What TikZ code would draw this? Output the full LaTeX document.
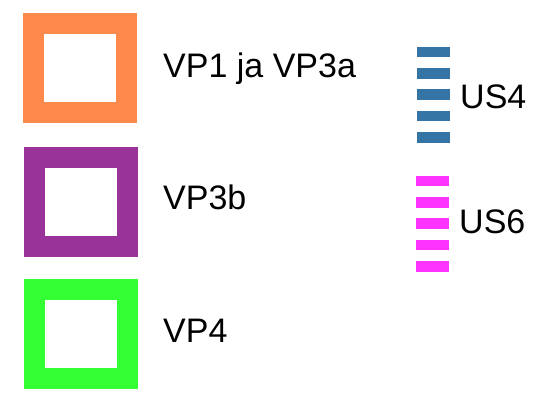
\documentclass[tikz,border=0pt]{standalone}
\usepackage{fontspec}
\setmainfont{Liberation Sans}
\definecolor{vpone}{RGB}{255,136,77}
\definecolor{vpthreeb}{RGB}{153,51,153}
\definecolor{vpfour}{RGB}{51,255,51}
\definecolor{usfour}{RGB}{52,117,166}
\definecolor{ussix}{RGB}{255,51,255}
\begin{document}
\begin{tikzpicture}[x=1pt,y=-1pt,
  framebox/.style={draw=#1,line width=21pt,minimum width=93pt,minimum height=89pt,inner sep=0pt,outer sep=0pt},
  legendtext/.style={anchor=base west,inner sep=0pt,font=\fontsize{34}{40}\selectfont},
  dashline/.style={draw=#1,line width=33pt,dash pattern=on 10.67pt off 10.67pt}]
\useasboundingbox (0,0) rectangle (551,395);
% area frames
\node[framebox=vpone]    (vp1) at (80,68) {};
\node[framebox=vpthreeb] (vp3b) at (80.5,202) {};
\node[framebox=vpfour]   (vp4) at (80.5,334) {};
\node[legendtext] (t1) at (163,78) {VP1 ja VP3a};
\node[legendtext] (t2) at (163,210) {VP3b};
\node[legendtext] (t3) at (163,342) {VP4};
% dashed route symbols
\coordinate (a1) at (433.5,46.7);
\coordinate (a2) at (433.5,142.7);
\coordinate (b1) at (432.3,175.7);
\coordinate (b2) at (432.3,271.7);
\draw[dashline=usfour] (a1) -- (a2);
\draw[dashline=ussix] (b1) -- (b2);
\node[legendtext] (t4) at (460,109) {US4};
\node[legendtext] (t5) at (459,234) {US6};
\end{tikzpicture}
\end{document}
